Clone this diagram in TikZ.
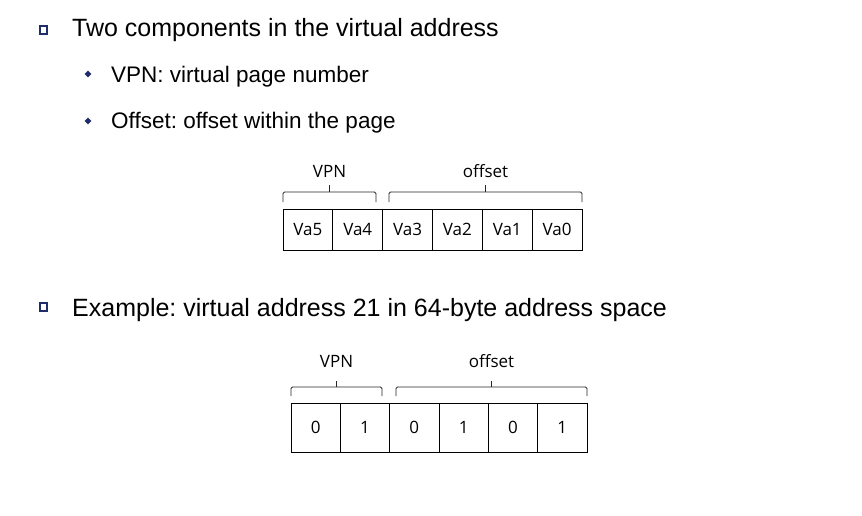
\documentclass[tikz,border=0pt]{standalone}
\usepackage{fontspec}
\setmainfont{Liberation Sans}
\newfontfamily\diagfont{Open Sans}
\definecolor{navy}{HTML}{1F2D6B}
\frenchspacing
\begin{document}
\begin{tikzpicture}[x=1pt,y=-1pt,
  sqbullet/.style={draw=navy, line width=1.7pt, fill=white, minimum size=7.5pt, inner sep=0pt},
  dmbullet/.style={fill=navy, rectangle, rotate=45, minimum size=4.8pt, inner sep=0pt},
  maintext/.style={anchor=base west, inner sep=0pt, font=\fontsize{25}{30}\selectfont},
  subtext/.style={anchor=base west, inner sep=0pt, font=\fontsize{22.5}{27}\selectfont},
  cellA/.style={draw, line width=0.8pt, minimum width=49.83pt, minimum height=41pt, inner sep=0pt, font=\diagfont\fontsize{17}{20}\selectfont},
  cellB/.style={draw, line width=0.8pt, minimum width=49.33pt, minimum height=49pt, inner sep=0pt, font=\diagfont\fontsize{17}{20}\selectfont},
  lbl/.style={inner sep=0pt, font=\diagfont\fontsize{17}{20}\selectfont},
  brace/.style={draw=black!85, line width=0.8pt, rounded corners=1.5pt}]
\useasboundingbox (0,0) rectangle (862,515);

% bullets and text
\node[sqbullet] (b1) at (43.5,30) {};
\node[maintext] (t1) at (72,36) {Two components in the virtual address};
\node[dmbullet] (d1) at (88,74) {};
\node[subtext] (t2) at (111,82) {VPN: virtual page number};
\node[dmbullet] (d2) at (88,121) {};
\node[subtext] (t3) at (111,128) {Offset: offset within the page};
\node[sqbullet] (b2) at (43.5,307) {};
\node[maintext] (t4) at (72,316) {Example: virtual address 21 in 64-byte address space};

% row 1
\foreach \t [count=\i from 0] in {Va5,Va4,Va3,Va2,Va1,Va0}
  \node[cellA] (a\i) at ({283+24.915+49.83*\i},229.5) {\t};
\draw[brace] (283,202) -- (283,192) -- (376,192) -- (376,202);
\draw[brace] (329.5,192) -- (329.5,185);
\draw[brace] (389,202) -- (389,192) -- (582,192) -- (582,202);
\draw[brace] (485.5,192) -- (485.5,185);
\node[lbl] (vpn1) at (329.5,171) {VPN};
\node[lbl] (off1) at (485.5,171) {offset};

% row 2
\foreach \t [count=\i from 0] in {0,1,0,1,0,1}
  \node[cellB] (c\i) at ({291+24.665+49.33*\i},427.5) {\t};
\draw[brace] (291,396) -- (291,387) -- (382,387) -- (382,396);
\draw[brace] (336.5,387) -- (336.5,381);
\draw[brace] (396,396) -- (396,387) -- (587,387) -- (587,396);
\draw[brace] (491.5,387) -- (491.5,381);
\node[lbl] (vpn2) at (336.5,361) {VPN};
\node[lbl] (off2) at (491.5,361) {offset};
\end{tikzpicture}
\end{document}
